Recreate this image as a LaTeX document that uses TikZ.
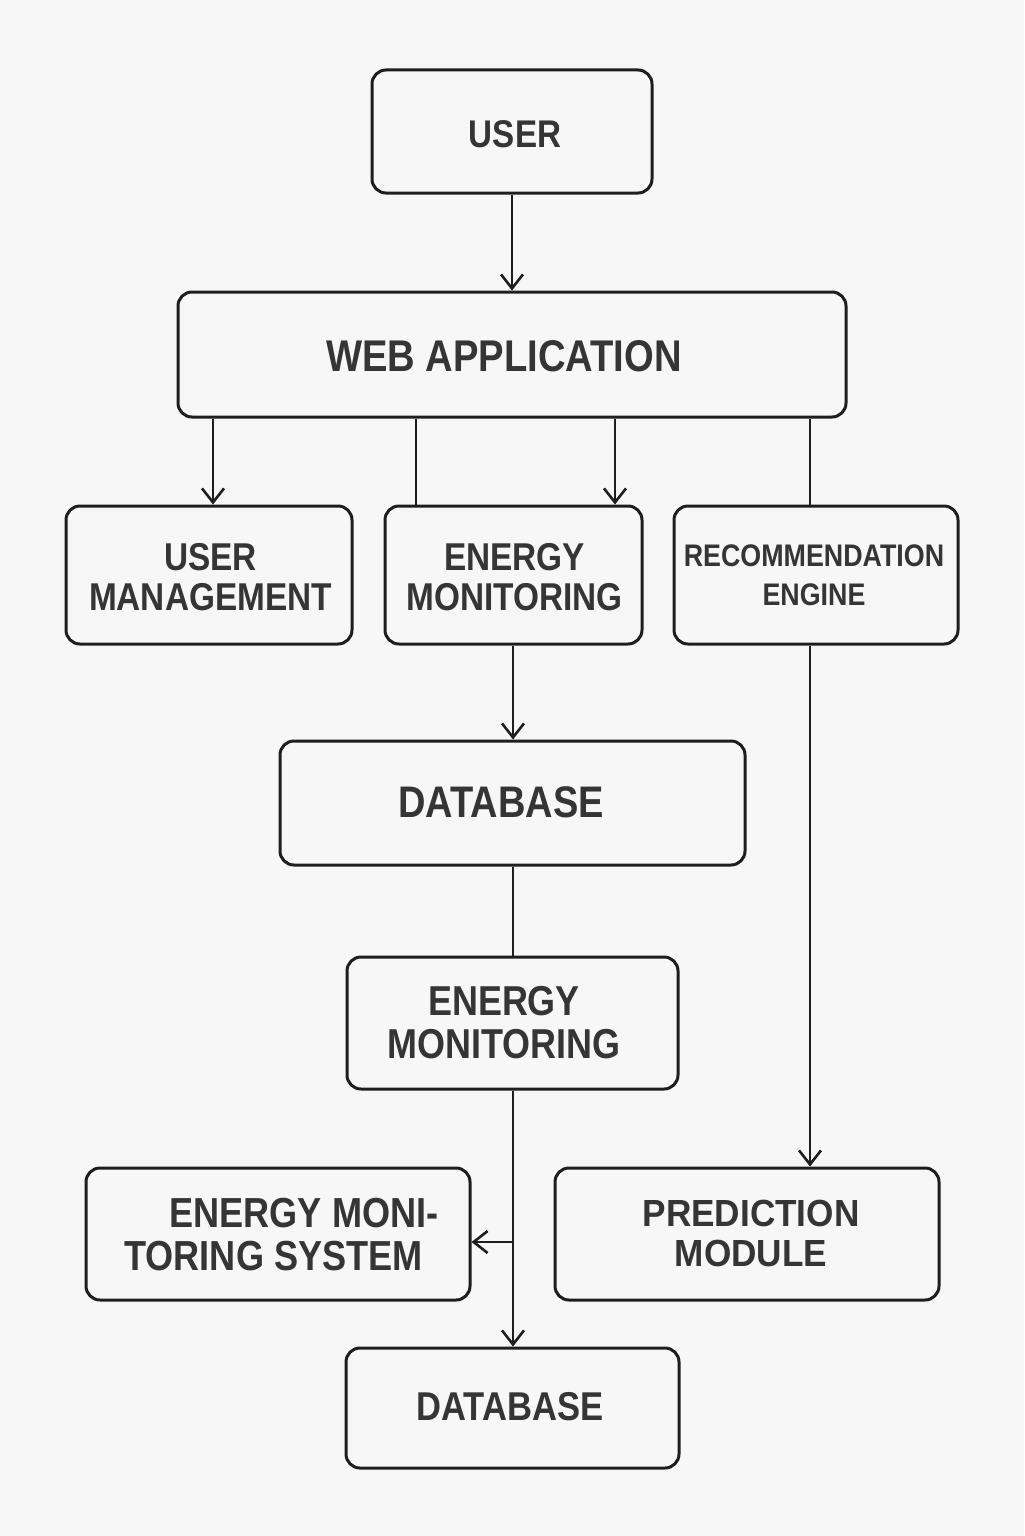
\documentclass[tikz,border=0pt]{standalone}
\usepackage{fontspec}
\setmainfont{Liberation Sans}
\newfontfamily\labfont[FakeStretch=0.86]{Liberation Sans}
\newfontfamily\labfontw[FakeStretch=0.93]{Liberation Sans}
\usetikzlibrary{arrows.meta}
\definecolor{bgc}{HTML}{F7F7F7}
\definecolor{ink}{HTML}{1E1E1E}
\begin{document}
\begin{tikzpicture}[x=0.5pt,y=-0.5pt,
  box/.style={draw=ink,line width=1.5pt,rounded corners=7pt,inner sep=0pt,fill=none},
  lab/.style={text=ink!90,inner sep=0pt,align=center},
  conn/.style={draw=ink,line width=1.3pt},
  arr/.style={conn,-{Straight Barb[length=7pt,width=11pt,line width=1.3pt]}}]
\useasboundingbox (0,0) rectangle (1024,1536);
\fill[bgc] (0,0) rectangle (1024,1536);
% boxes
\node[box,minimum width=140pt,minimum height=61.5pt] (user) at (512,131.5) {};
\node[box,minimum width=334pt,minimum height=62.5pt] (web) at (512,354.5) {};
\node[box,minimum width=143pt,minimum height=69pt] (um) at (209,575) {};
\node[box,minimum width=128.5pt,minimum height=69pt] (em1) at (513.5,575) {};
\node[box,minimum width=142pt,minimum height=69pt] (rec) at (816,575) {};
\node[box,minimum width=232.5pt,minimum height=62pt] (db1) at (512.5,803) {};
\node[box,minimum width=165.5pt,minimum height=66pt] (em2) at (512.5,1023) {};
\node[box,minimum width=192pt,minimum height=66pt] (ems) at (278,1234) {};
\node[box,minimum width=192pt,minimum height=66pt] (pred) at (747,1234) {};
\node[box,minimum width=166.5pt,minimum height=60pt] (db2) at (512.5,1408) {};
% labels
\node[lab,font=\labfont\bfseries\fontsize{19.3pt}{20pt}\selectfont] (tuser) at (515,134.5) {USER};
\node[lab,font=\labfont\bfseries\fontsize{22.2pt}{23pt}\selectfont] (tweb) at (504,356) {WEB APPLICATION};
\node[lab,font=\labfont\bfseries\fontsize{19.4pt}{20pt}\selectfont] (tum) at (210.5,577) {USER\\MANAGEMENT};
\node[lab,font=\labfont\bfseries\fontsize{19.4pt}{20pt}\selectfont] (tem1) at (514.5,577) {ENERGY\\MONITORING};
\node[lab,font=\labfont\bfseries\fontsize{15.6pt}{19.5pt}\selectfont] (trec) at (814,575) {RECOMMENDATION\\ENGINE};
\node[lab,font=\labfont\bfseries\fontsize{22.1pt}{23pt}\selectfont] (tdb1) at (501,802.5) {DATABASE};
\node[lab,font=\labfont\bfseries\fontsize{20.9pt}{21.5pt}\selectfont] (tem2) at (504,1022.5) {ENERGY\\MONITORING};
\node[lab,font=\labfont\bfseries\fontsize{21pt}{21.5pt}\selectfont] (tems) at (273.5,1234.5) {\hspace*{30.5pt}ENERGY MONI-\\TORING SYSTEM};
\node[lab,font=\labfontw\bfseries\fontsize{18.9pt}{20pt}\selectfont] (tpred) at (751,1233) {PREDICTION\\MODULE};
\node[lab,font=\labfont\bfseries\fontsize{20.1pt}{21pt}\selectfont] (tdb2) at (510,1407) {DATABASE};
% connectors
\draw[arr] (user.south) -- (web.north);
\draw[arr] (213,0 |- web.south) -- (213,0 |- um.north);
\draw[conn] (416,0 |- web.south) -- (416,0 |- em1.north);
\draw[arr] (615,0 |- web.south) -- (615,0 |- em1.north);
\draw[conn] (810,0 |- web.south) -- (810,0 |- rec.north);
\draw[arr] (513,0 |- em1.south) -- (513,0 |- db1.north);
\draw[conn] (513,0 |- db1.south) -- (513,0 |- em2.north);
\draw[arr] (513,0 |- em2.south) -- (513,0 |- db2.north);
\coordinate (br) at (513,1242);
\draw[arr] (br) -- (br -| ems.east);
\draw[arr] (810,0 |- rec.south) -- (810,0 |- pred.north);
\end{tikzpicture}
\end{document}
